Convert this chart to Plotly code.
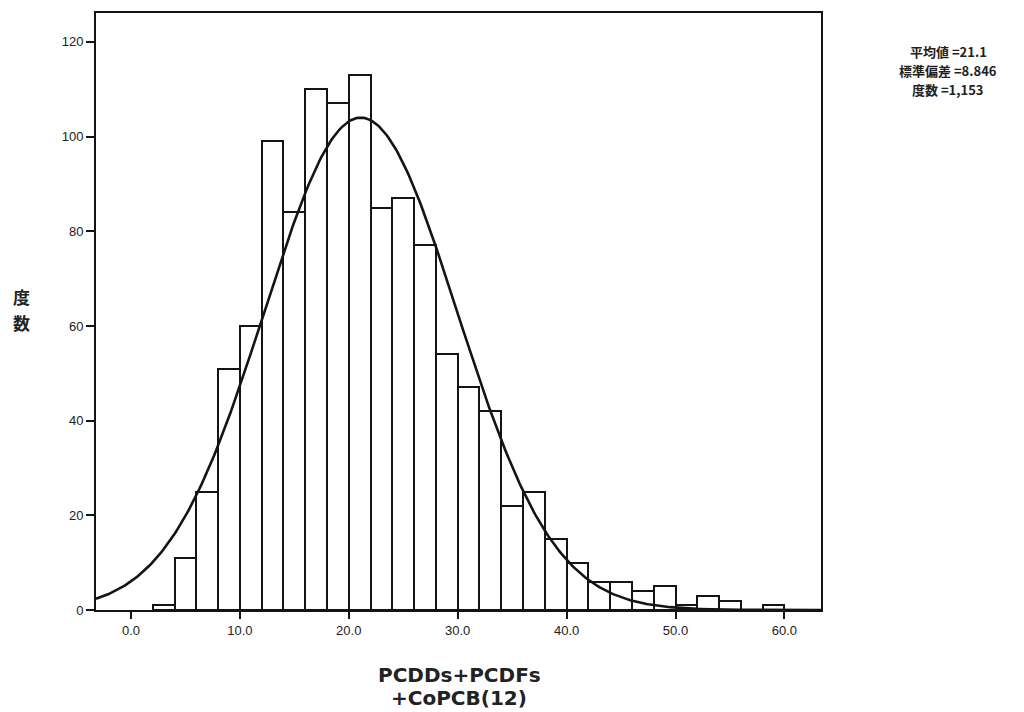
import numpy as np
import plotly.graph_objects as go

# Histogram data (bin width 2)
bin_starts = [2, 4, 6, 8, 10, 12, 14, 16, 18, 20, 22, 24, 26, 28, 30,
              32, 34, 36, 38, 40, 42, 44, 46, 48, 50, 52, 54, 56, 58]
counts = [1, 11, 25, 51, 60, 99, 84, 110, 107, 113, 85, 87, 77, 54, 47,
          42, 22, 25, 15, 10, 6, 6, 4, 5, 1, 3, 2, 0, 1]
bin_width = 2

# Summary statistics
mean_val = 21.1
std_val = 8.846
n_val = 1153
stat_lines = ["平均値 =21.1", "標準偏差 =8.846", "度数 =1,153"]

x_title_lines = ["PCDDs+PCDFs", "+CoPCB(12)"]
y_title_chars = ["度", "数"]

x_tickvals = [0, 10, 20, 30, 40, 50, 60]
x_ticktext = ["0.0", "10.0", "20.0", "30.0", "40.0", "50.0", "60.0"]
y_tickvals = [0, 20, 40, 60, 80, 100, 120]

x_range = [-3.21, 63.36]
y_range = [0, 126.1]

centers = [s + bin_width / 2 for s in bin_starts]

# fitted normal curve scaled to counts
xc = np.linspace(x_range[0], x_range[1], 400)
yc = n_val * bin_width / (std_val * np.sqrt(2 * np.pi)) * np.exp(-0.5 * ((xc - mean_val) / std_val) ** 2)

fig = go.Figure()
fig.add_trace(go.Bar(
    x=centers, y=counts, width=[bin_width] * len(centers),
    marker=dict(color="white", line=dict(color="#141414", width=2)),
    showlegend=False, hoverinfo="x+y",
))
fig.add_trace(go.Scatter(
    x=xc, y=yc, mode="lines",
    line=dict(color="#141414", width=2.6),
    showlegend=False, hoverinfo="skip",
))

tick_font = dict(family="Liberation Sans, Arial, sans-serif", size=13, color="#222")

fig.update_layout(
    width=1024, height=712,
    margin=dict(l=96, r=203, t=11, b=102),
    paper_bgcolor="white", plot_bgcolor="white",
    bargap=0,
    xaxis=dict(
        range=x_range, tickvals=x_tickvals, ticktext=x_ticktext,
        ticks="outside", ticklen=7, tickwidth=2, tickcolor="#141414",
        showline=True, linecolor="#141414", linewidth=2, mirror=True,
        showgrid=False, zeroline=False, tickfont=tick_font,
    ),
    yaxis=dict(
        range=y_range, tickvals=y_tickvals,
        ticks="outside", ticklen=8, tickwidth=2, tickcolor="#141414",
        showline=True, linecolor="#141414", linewidth=2, mirror=True,
        showgrid=False, zeroline=False, tickfont=tick_font,
    ),
)

# x-axis title, two lines
for txt, yp in zip(x_title_lines, [-0.1085, -0.1469]):
    fig.add_annotation(
        text="<b>" + txt + "</b>", xref="paper", yref="paper",
        x=0.5007, y=yp, xanchor="center", yanchor="middle", showarrow=False,
        font=dict(family="DejaVu Sans, sans-serif", size=20, color="#222"),
    )

# y-axis title: vertically stacked characters
for ch, yp in zip(y_title_chars, [0.5259, 0.4824]):
    fig.add_annotation(
        text="<b>" + ch + "</b>", xref="paper", yref="paper",
        x=-0.1034, y=yp, xanchor="center", yanchor="middle", showarrow=False,
        font=dict(family="Noto Sans CJK JP", size=17, color="#222"),
    )

# statistics text
for line, yp in zip(stat_lines, [0.9349, 0.9032, 0.8715]):
    fig.add_annotation(
        text="<b>" + line + "</b>", xref="paper", yref="paper",
        x=1.1752, y=yp, xanchor="center", yanchor="middle", showarrow=False,
        font=dict(family="Noto Sans CJK JP", size=13, color="#222"),
    )

fig.write_html("out.html")
